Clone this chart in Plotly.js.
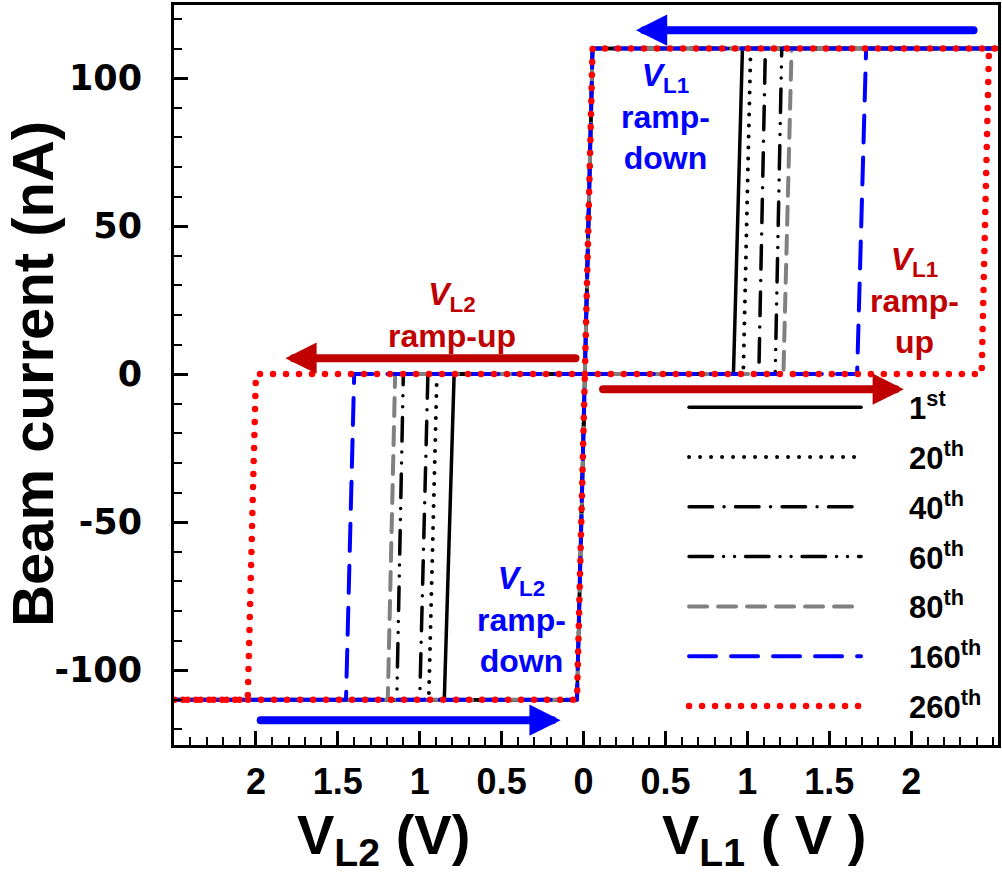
<!DOCTYPE html>
<html><head><meta charset="utf-8">
<script src="https://cdn.plot.ly/plotly-3.0.1.min.js"></script>
<style>
html,body{margin:0;padding:0;background:#fff;}
#chart{width:1002px;height:877px;}
.js-plotly-plot path.js-line{stroke-linecap:round;stroke-linejoin:round;}
.js-plotly-plot .annotation-arrow-g path{stroke-linecap:round;}
</style></head><body><div id="chart"></div>
<script>
// ---- data ----
const cycles = ['1st', '20th', '40th', '60th', '80th', '160th', '260th'];
const cycleLabels = ['1<sup>st</sup>', '20<sup>th</sup>', '40<sup>th</sup>', '60<sup>th</sup>', '80<sup>th</sup>', '160<sup>th</sup>', '260<sup>th</sup>'];
// V_L1 ramp-up: switching voltage where current leaves 0 nA and where it reaches +110 nA
const vL1SwitchStart = [0.915, 0.975, 1.07, 1.17, 1.22, 1.67, 2.43];
const vL1SwitchEnd   = [0.97, 1.02, 1.11, 1.21, 1.27, 1.725, 2.475];
// V_L2 ramp-up (magnitude): voltage where current leaves 0 nA and where it reaches -110 nA
const vL2SwitchStart = [0.79, 0.895, 0.95, 1.10, 1.15, 1.40, 2.0];
const vL2SwitchEnd   = [0.85, 0.945, 1.0, 1.14, 1.195, 1.45, 2.05];
// ramp-down return switching (common to all cycles), at +110, 0 and -110 nA
const returnVoltage = [0.055, 0.008, -0.04];
const currentHigh = 110, currentZero = 0, currentLow = -110;
const sweepMax = 2.55;
// tick labels (both voltage branches shown as magnitudes)
const xTickVals = [-2, -1.5, -1, -0.5, 0, 0.5, 1, 1.5, 2];
const xTickText = ['2', '1.5', '1', '0.5', '0', '0.5', '1', '1.5', '2'];
const yTickVals = [-100, -50, 0, 50, 100];
const yTickText = ['-100', '-50', '0', '50', '100'];

// ---- styles ----
const lineColors = ['#000000', '#000000', '#000000', '#000000', '#808080', '#0000ff', '#ff0000'];
const lineWidths = [3.5, 4, 3.5, 3.5, 4, 4, 6.5];
const lineDashes = ['solid', '0px,11px', '23.5px,11.5px,0px,11.5px', '23.5px,11px,0px,11px,0px,11px', '18px,11px', '27px,15px', '0px,13px'];

const ARIAL = 'Liberation Sans, Arial, sans-serif';
const DARKRED = '#c00000', BLUE = '#0000ff';
const GAP = '\u00a0\u00a0\u00a0\u00a0\u00a0';

const traces = cycles.map((c, i) => ({
  type: 'scatter', mode: 'lines', name: GAP + cycleLabels[i],
  legendgroup: 'g' + i, uid: 'c' + i,
  x: [returnVoltage[1], vL1SwitchStart[i], vL1SwitchEnd[i], sweepMax, returnVoltage[0], returnVoltage[1],
      -vL2SwitchStart[i], -vL2SwitchEnd[i], -sweepMax, returnVoltage[2], returnVoltage[1]],
  y: [currentZero, currentZero, currentHigh, currentHigh, currentHigh, currentZero,
      currentZero, currentLow, currentLow, currentLow, currentZero],
  line: {color: lineColors[i], width: lineWidths[i], dash: lineDashes[i]},
  hoverinfo: 'skip'
}));

function label(x, y, text, color) {
  return {x: x, y: y, xref: 'x', yref: 'y', text: text, showarrow: false,
    font: {family: ARIAL, size: 32, color: color, weight: 'bold'}, align: 'center'};
}
function arrow(xTail, yTail, xTip, yTip, color) {
  return {x: xTip, y: yTip, ax: xTail, ay: yTail, xref: 'x', yref: 'y', axref: 'x', ayref: 'y',
    text: '', showarrow: true, arrowhead: 2, arrowsize: 0.78, arrowwidth: 8, arrowcolor: color, standoff: 0};
}

const annotations = [
  label(-0.80, 20, '<i>V</i><sub>L2</sub><br>ramp-up', DARKRED),
  label(0.50, 87, '<i>V</i><sub>L1</sub><br>ramp-<br>down', BLUE),
  label(2.02, 25, '<i>V</i><sub>L1</sub><br>ramp-<br>up', DARKRED),
  label(-0.38, -83, '<i>V</i><sub>L2</sub><br>ramp-<br>down', BLUE),
  arrow(-0.04, 5.4, -1.82, 5.4, DARKRED),
  arrow(0.11, -5.1, 1.955, -5.1, DARKRED),
  arrow(2.39, 116.2, 0.32, 116.2, BLUE),
  arrow(-1.98, -116.9, -0.14, -116.9, BLUE),
  {xref: 'paper', yref: 'paper', x: 0.254, y: -0.127, xanchor: 'center', yanchor: 'middle', showarrow: false,
   text: 'V<sub>L2</sub> (V)', font: {family: ARIAL, size: 56, color: '#000', weight: 'bold'}},
  {xref: 'paper', yref: 'paper', x: 0.716, y: -0.127, xanchor: 'center', yanchor: 'middle', showarrow: false,
   text: 'V<sub>L1</sub> ( V )', font: {family: ARIAL, size: 56, color: '#000', weight: 'bold'}},
  {xref: 'paper', yref: 'paper', x: -0.172, y: 0.502, xanchor: 'center', yanchor: 'middle', showarrow: false,
   textangle: -90, text: 'Beam current (nA)', font: {family: ARIAL, size: 58, color: '#000', weight: 'bold'}}
];

const layout = {
  width: 1002, height: 877,
  margin: {l: 174, r: 4, t: 5, b: 132},
  paper_bgcolor: '#fff', plot_bgcolor: '#fff',
  showlegend: true,
  legend: {x: 0.619, y: 0.4925, xanchor: 'left', yanchor: 'top', bgcolor: 'rgba(0,0,0,0)',
    font: {family: ARIAL, size: 31, color: '#000', weight: 'bold'},
    itemwidth: 172, traceorder: 'grouped', tracegroupgap: 6.5, itemclick: false, itemdoubleclick: false},
  xaxis: {range: [-2.5, 2.53], showgrid: false, zeroline: false,
    showline: true, linecolor: '#000', linewidth: 3, mirror: true,
    ticks: 'inside', ticklen: 14, tickwidth: 3, tickcolor: '#000',
    tickvals: xTickVals, ticktext: xTickText, ticklabelstandoff: 3,
    tickfont: {family: ARIAL, size: 36, color: '#000', weight: 'bold'},
    minor: {dtick: 0.1, tick0: 0, ticks: 'inside', ticklen: 8, tickwidth: 2, tickcolor: '#000'}},
  yaxis: {range: [-125.3, 124.7], showgrid: false, zeroline: false,
    showline: true, linecolor: '#000', linewidth: 3, mirror: true,
    ticks: 'inside', ticklen: 14, tickwidth: 3, tickcolor: '#000',
    tickvals: yTickVals, ticktext: yTickText, ticklabelstandoff: 22,
    tickfont: {family: 'DejaVu Sans, sans-serif', size: 35, color: '#000', weight: 'bold'},
    minor: {dtick: 10, tick0: 0, ticks: 'inside', ticklen: 8, tickwidth: 2, tickcolor: '#000'}},
  annotations: annotations
};

Plotly.newPlot('chart', traces, layout, {staticPlot: true, displayModeBar: false});
</script></body></html>
